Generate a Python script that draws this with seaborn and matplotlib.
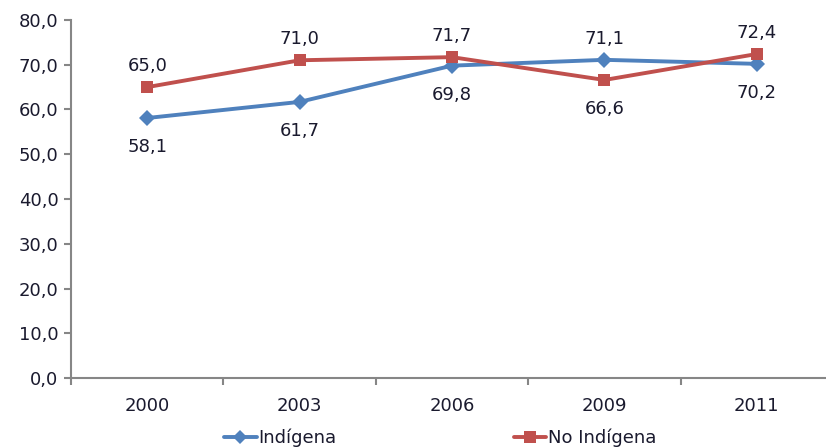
import matplotlib
matplotlib.use('Agg')
import matplotlib.pyplot as plt
import seaborn as sns
import pandas as pd
from matplotlib.ticker import FuncFormatter
from matplotlib.lines import Line2D

# datos
anios = ['2000', '2003', '2006', '2009', '2011']
indigena = [58.1, 61.7, 69.8, 71.1, 70.2]
no_indigena = [65.0, 71.0, 71.7, 66.6, 72.4]
# posicion de las etiquetas: 1 arriba, -1 abajo
pos_ind = [-1, -1, -1, 1, -1]
pos_no = [1, 1, 1, -1, 1]

azul = '#4F81BD'
rojo = '#C0504D'

df = pd.DataFrame({
    'x': list(range(len(anios))) * 2,
    'valor': indigena + no_indigena,
    'serie': ['Indígena'] * len(anios) + ['No Indígena'] * len(anios),
})

sns.set_style('white')
plt.rcParams['font.family'] = ['DejaVu Sans']

fig = plt.figure(figsize=(8.26, 4.48), dpi=100)
ax = fig.add_axes([71 / 826, 1 - 378 / 448, 762 / 826, 358 / 448])

sns.lineplot(data=df, x='x', y='valor', hue='serie', style='serie',
             markers={'Indígena': 'D', 'No Indígena': 's'}, dashes=False,
             palette={'Indígena': azul, 'No Indígena': rojo},
             linewidth=2.8, markersize=8.5, markeredgewidth=0, ax=ax, legend=False)

txt = '#1a1a2e'
fs = 13
for vals, pos in [(indigena, pos_ind), (no_indigena, pos_no)]:
    for i, v in enumerate(vals):
        dy = 21 if pos[i] > 0 else -29
        ax.annotate(f'{v:.1f}'.replace('.', ','), (i, v), textcoords='offset pixels',
                    xytext=(0, dy), ha='center', va='center', fontsize=fs, color=txt)

ax.set_xlim(-0.5, 4.5)
ax.set_ylim(0, 80)
ax.set_yticks(range(0, 81, 10))
ax.yaxis.set_major_formatter(FuncFormatter(lambda v, p: f'{v:.1f}'.replace('.', ',')))
ax.set_xticks(range(len(anios)))
ax.set_xticklabels(anios)
ax.set_xticks([i - 0.5 for i in range(len(anios) + 1)], minor=True)
ax.tick_params(axis='x', which='major', length=0, pad=14, labelsize=fs, labelcolor=txt)
ax.tick_params(axis='x', which='minor', bottom=True, length=5, width=1.5, color='#868686',
               direction='out')
ax.tick_params(axis='y', length=5, width=1.5, color='#868686', direction='out', labelsize=fs,
               labelcolor=txt, pad=4, left=True)
ax.set_xlabel('')
ax.set_ylabel('')
for s in ['top', 'right']:
    ax.spines[s].set_visible(False)
for s in ['left', 'bottom']:
    ax.spines[s].set_color('#868686')
    ax.spines[s].set_linewidth(1.5)

# leyenda
handles = [Line2D([], [], color=azul, marker='D', lw=2.8, ms=7, mew=0),
           Line2D([], [], color=rojo, marker='s', lw=2.8, ms=8.5, mew=0)]
fig.legend(handles, ['Indígena', 'No Indígena'], loc='center', bbox_to_anchor=(0.533, 1 - 438 / 448),
           ncol=2, frameon=False, fontsize=fs, handlelength=1.8, handletextpad=0.1,
           columnspacing=9.8, labelcolor=txt)

fig.savefig('out.png', dpi=100)
